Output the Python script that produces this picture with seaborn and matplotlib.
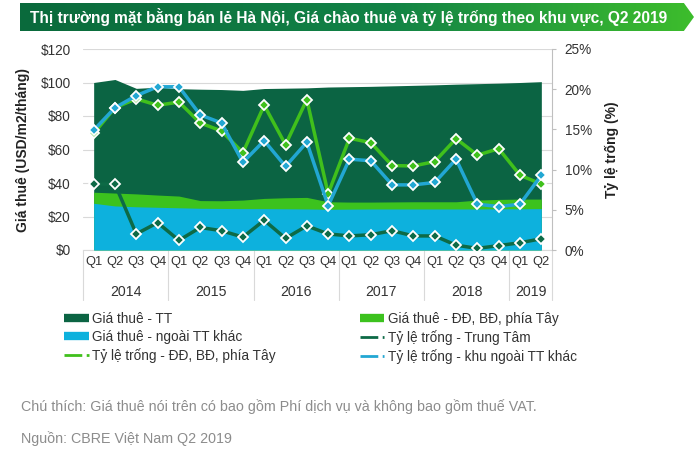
import numpy as np
import pandas as pd
import matplotlib
matplotlib.use("Agg")
import matplotlib.pyplot as plt
import seaborn as sns
from matplotlib.patches import Polygon
from matplotlib.lines import Line2D

# quarters 2014 Q1 .. 2019 Q2
quarters = ["Q1", "Q2", "Q3", "Q4"] * 5 + ["Q1", "Q2"]
years = ["2014", "2015", "2016", "2017", "2018", "2019"]
year_start = [0, 4, 8, 12, 16, 20]
year_end = [3, 7, 11, 15, 19, 21]

# rents (USD/m2/month), left axis
rent_tt = [100.0, 101.8, 96.5, 97.2, 96.3, 96.0, 95.8, 95.3, 96.4, 96.6, 96.8,
           97.3, 97.5, 97.7, 98.0, 98.3, 98.6, 99.0, 99.3, 99.6, 100.0, 100.5]
rent_dd = [34.5, 34.0, 33.5, 32.8, 32.2, 29.5, 29.4, 29.8, 30.8, 31.2, 31.4,
           28.8, 28.6, 28.6, 28.7, 28.8, 28.8, 28.8, 29.8, 30.2, 30.4, 30.4]
rent_other = [27.9, 26.3, 25.8, 25.5, 25.2, 24.9, 24.8, 24.7, 24.7, 24.6, 24.5,
              24.3, 24.4, 24.5, 24.5, 24.5, 24.5, 24.5, 24.5, 24.6, 24.6, 24.7]

# vacancy rates (%), right axis
vac_tt = [8.2, 8.2, 2.0, 3.4, 1.2, 2.8, 2.4, 1.6, 3.7, 1.45, 3.0, 2.0,
          1.75, 1.9, 2.4, 1.75, 1.75, 0.6, 0.2, 0.55, 0.9, 1.4]
vac_dd = [14.5, 17.7, 18.8, 18.0, 18.4, 15.8, 14.8, 12.1, 18.0, 13.1, 18.7, 7.0,
          13.9, 13.35, 10.5, 10.45, 11.0, 13.85, 11.8, 12.6, 9.3, 8.2]
vac_other = [14.9, 17.7, 19.2, 20.3, 20.3, 16.8, 15.8, 10.9, 13.6, 10.4, 13.4, 5.5,
             11.3, 11.1, 8.1, 8.1, 8.4, 11.3, 5.7, 5.4, 5.7, 9.3]

lbl_rent_tt = "Giá thuê - TT"
lbl_rent_dd = "Giá thuê - ĐĐ, BĐ, phía Tây"
lbl_rent_other = "Giá thuê - ngoài TT khác"
lbl_vac_tt = "Tỷ lệ trống - Trung Tâm"
lbl_vac_dd = "Tỷ lệ trống - ĐĐ, BĐ, phía Tây"
lbl_vac_other = "Tỷ lệ trống - khu ngoài TT khác"

title = "Thị trường mặt bằng bán lẻ Hà Nội, Giá chào thuê và tỷ lệ trống theo khu vực, Q2 2019"
note = "Chú thích: Giá thuê nói trên có bao gồm Phí dịch vụ và không bao gồm thuế VAT."
source = "Nguồn: CBRE Việt Nam Q2 2019"

sns.set_style("white")
plt.rcParams["font.family"] = ["Liberation Sans", "DejaVu Sans"]

c_tt = "#0b6443"
c_dd = "#3cc21e"
c_other = "#0db1dd"
c_vtt = "#0d6a46"
c_vdd = "#40c01c"
c_vother = "#22a7d3"
txt = "#333333"

x = np.arange(len(quarters))

fig = plt.figure(figsize=(7, 4.5), dpi=100)

# title banner with gradient and arrow end
bax = fig.add_axes([20 / 700, 1 - 31 / 450, 674 / 700, 28 / 450])
bax.set_xlim(0, 1)
bax.set_ylim(0, 1)
bax.axis("off")
grad = np.linspace(0, 1, 256).reshape(1, -1)
cmap = matplotlib.colors.LinearSegmentedColormap.from_list(
    "g", [(0, "#0a6a3c"), (0.55, "#128346"), (1, "#3dbd2c")])
im = bax.imshow(grad, extent=(0, 1, 0, 1), aspect="auto", cmap=cmap)
shape = Polygon([(0, 0), (0.985, 0), (1, 0.5), (0.985, 1), (0, 1)], closed=True,
                transform=bax.transData, facecolor="none", edgecolor="none")
bax.add_patch(shape)
im.set_clip_path(shape)
bax.text(10 / 674, 0.5, title, color="white", fontsize=11.2, fontweight="bold",
         va="center", ha="left")

# main axes
ax = fig.add_axes([83 / 700, 200 / 450, 469 / 700, 201 / 450])
ax.set_axisbelow(True)
ax.yaxis.grid(True, color="#d9d9d9", lw=0.8)
ax.fill_between(x, rent_tt, color=c_tt, lw=0, zorder=2)
ax.fill_between(x, rent_dd, color=c_dd, lw=0, zorder=3)
ax.fill_between(x, rent_other, color=c_other, lw=0, zorder=4)
ax.set_xlim(-0.5, len(quarters) - 0.5)
ax.set_ylim(0, 120)
ax.set_yticks(range(0, 121, 20))
ax.set_yticklabels(["$%d" % v for v in range(0, 121, 20)])
ax.set_xticks(x)
ax.set_xticklabels(quarters)
ax.tick_params(axis="y", length=0, pad=9, labelsize=9.8, labelcolor=txt)
ax.tick_params(axis="x", length=0, pad=4, labelsize=9.3, labelcolor=txt)
for s in ["left", "top", "right"]:
    ax.spines[s].set_visible(False)
ax.spines["bottom"].set_color("#d9d9d9")
ax.set_ylabel("Giá thuê (USD/m2/tháng)", fontsize=10, fontweight="bold", color="#222222")
ax.yaxis.set_label_coords(-0.113, 0.5)

# year labels and separators
trans = matplotlib.transforms.blended_transform_factory(ax.transData, ax.transAxes)
for yl, a, b in zip(years, year_start, year_end):
    ax.text((a + b) / 2, -0.21, yl, transform=trans, ha="center", va="center",
            fontsize=10.2, color=txt)
for sep in [-0.5] + [b + 0.5 for b in year_end]:
    ax.plot([sep, sep], [0, -0.25], transform=trans, color="#d9d9d9", lw=0.8,
            clip_on=False)

# vacancy lines on right axis
ax2 = ax.twinx()
for vals, col in [(vac_tt, c_vtt), (vac_dd, c_vdd), (vac_other, c_vother)]:
    sns.lineplot(x=x, y=vals, ax=ax2, color=col, lw=2.5, marker="D", markersize=4.8,
                 markerfacecolor=col, markeredgecolor="white", markeredgewidth=1.3)
ax2.set_ylim(0, 25)
ax2.set_yticks(range(0, 26, 5))
ax2.set_yticklabels(["%d%%" % v for v in range(0, 26, 5)])
ax2.tick_params(axis="y", length=3, color="#bfbfbf", pad=6, labelsize=9.8, labelcolor=txt)
for s in ["left", "top", "bottom"]:
    ax2.spines[s].set_visible(False)
ax2.spines["right"].set_color("#bfbfbf")
ax2.set_ylabel("Tỷ lệ trống (%)", fontsize=10, fontweight="bold", color="#222222")
ax2.yaxis.set_label_coords(1.113, 0.5)

# legend in two columns
h_rtt = Line2D([], [], color=c_tt, lw=6, solid_capstyle="butt")
h_rdd = Line2D([], [], color=c_dd, lw=6, solid_capstyle="butt")
h_rot = Line2D([], [], color=c_other, lw=6, solid_capstyle="butt")
h_vtt = Line2D([], [], color=c_vtt, lw=2, ls="-.")
h_vdd = Line2D([], [], color=c_vdd, lw=2, ls="-.")
h_vot = Line2D([], [], color=c_vother, lw=2, ls="-.")
leg_kw = dict(loc="upper left", frameon=False, fontsize=9.8, handlelength=1.8,
              handletextpad=0.25, labelspacing=0.3, borderaxespad=0, borderpad=0)
leg1 = fig.legend([h_rtt, h_rot, h_vdd], [lbl_rent_tt, lbl_rent_other, lbl_vac_dd],
                  bbox_to_anchor=(64 / 700, 1 - 312 / 450), **leg_kw)
leg2 = fig.legend([h_rdd, h_vtt, h_vot], [lbl_rent_dd, lbl_vac_tt, lbl_vac_other],
                  bbox_to_anchor=(360 / 700, 1 - 312 / 450), **leg_kw)
for lg in (leg1, leg2):
    for t in lg.get_texts():
        t.set_color(txt)

fig.text(21 / 700, 1 - 407 / 450, note, fontsize=10.3, color="#8c8c8c", va="center")
fig.text(21 / 700, 1 - 439 / 450, source, fontsize=10.3, color="#8c8c8c", va="center")

fig.savefig("out.png", dpi=100)
